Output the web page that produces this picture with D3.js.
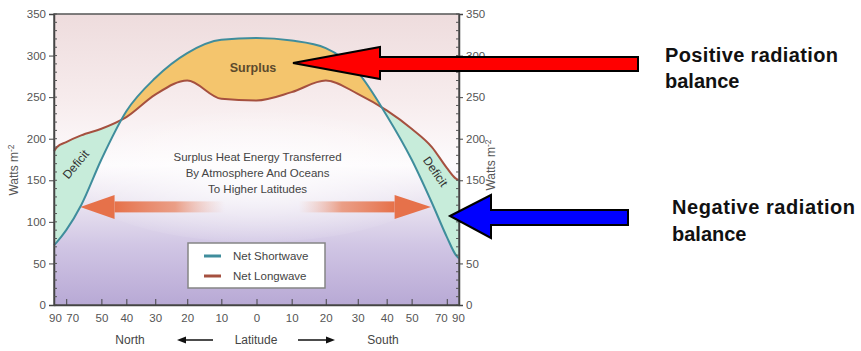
<!DOCTYPE html>
<html><head><meta charset="utf-8">
<script src="https://cdn.jsdelivr.net/npm/d3@7"></script>
<style>body{margin:0;background:#fff}svg{display:block}text{font-family:"Liberation Sans",Arial,Helvetica,sans-serif}</style>
</head><body>
<script>
// ---- data ----
const latitudes    = [90, 80, 70, 60, 50, 40, 30, 20, 10, 0, -10, -20, -30, -40, -50, -60, -70, -80, -90];
const netShortwave = [72, 76, 90, 120, 175, 233, 273, 303, 319, 321, 318, 309, 280, 228, 175, 123, 82, 60, 56];
const netLongwave  = [185, 190, 196, 204, 212, 226, 253, 270, 248, 246, 256, 270, 254, 234, 212, 190, 165, 152, 150];
const latTicks  = [90, 70, 50, 40, 30, 20, 10, 0, -10, -20, -30, -40, -50, -70, -90];
const wattTicks = [0, 50, 100, 150, 200, 250, 300, 350];
const seriesNames = ["Net Shortwave", "Net Longwave"];
const centerNote = ["Surplus Heat Energy Transferred", "By Atmosphere And Oceans", "To Higher Latitudes"];

const W = 861, H = 351;
const svg = d3.select("body").append("svg").attr("width", W).attr("height", H);
const defs = svg.append("defs");

const L = 54, R = 459, T = 14, B = 305;
const xs = d3.scaleLinear().domain([1, -1]).range([L, R]);        // sin(latitude) -> px (area-weighted)
const x = lat => xs(Math.sin(lat * Math.PI / 180));
const y = d3.scaleLinear().domain([0, 350]).range([B, T]);

const SW = "#3f8d9c", LW = "#a5503f";
const rows = latitudes.map((lat, i) => ({lat, sw: netShortwave[i], lw: netLongwave[i]}));

// background gradient
const bg = defs.append("linearGradient").attr("id", "bg").attr("gradientUnits", "userSpaceOnUse")
  .attr("x1", 0).attr("y1", T).attr("x2", 0).attr("y2", B);
[[0, "#eedcdd"], [0.3, "#f7eced"], [0.52, "#fdfbfd"], [0.64, "#ebe5f1"], [0.8, "#d0c5e4"], [1, "#b8a9d5"]]
  .forEach(([o, c]) => bg.append("stop").attr("offset", o).attr("stop-color", c));
svg.append("rect").attr("x", L).attr("y", T).attr("width", R - L).attr("height", B - T).attr("fill", "url(#bg)");
const rg = defs.append("radialGradient").attr("id", "glow").attr("cx", 0.5).attr("cy", 0.55).attr("r", 0.5);
rg.append("stop").attr("offset", 0).attr("stop-color", "#fff").attr("stop-opacity", 0.8);
rg.append("stop").attr("offset", 1).attr("stop-color", "#fff").attr("stop-opacity", 0);
svg.append("ellipse").attr("cx", (L + R) / 2).attr("cy", 172).attr("rx", 190).attr("ry", 70).attr("fill", "url(#glow)");

const curve = d3.curveMonotoneX;
const lineSW = d3.line().x(d => x(d.lat)).y(d => y(d.sw)).curve(curve);
const lineLW = d3.line().x(d => x(d.lat)).y(d => y(d.lw)).curve(curve);
const belowSW = d3.area().x(d => x(d.lat)).y0(y(0)).y1(d => y(d.sw)).curve(curve);
const belowLW = d3.area().x(d => x(d.lat)).y0(y(0)).y1(d => y(d.lw)).curve(curve);
const aboveSW = d3.area().x(d => x(d.lat)).y0(y(350)).y1(d => y(d.sw)).curve(curve);
const aboveLW = d3.area().x(d => x(d.lat)).y0(y(350)).y1(d => y(d.lw)).curve(curve);

defs.append("clipPath").attr("id", "cAboveLW").append("path").attr("d", aboveLW(rows));
defs.append("clipPath").attr("id", "cAboveSW").append("path").attr("d", aboveSW(rows));

// surplus (SW > LW)
svg.append("path").attr("d", belowSW(rows)).attr("fill", "#f4c56d").attr("clip-path", "url(#cAboveLW)");
// deficit (LW > SW)
svg.append("path").attr("d", belowLW(rows)).attr("fill", "#c7ecda").attr("clip-path", "url(#cAboveSW)");

// transport arrows
const arrowY = y(118);
function bigArrow(tipLat, baseLat, fadeLat, id) {
  const tx = x(tipLat), bx = x(baseLat), fx = x(fadeLat);
  const g = defs.append("linearGradient").attr("id", id).attr("gradientUnits", "userSpaceOnUse")
    .attr("x1", bx).attr("y1", 0).attr("x2", fx).attr("y2", 0);
  g.append("stop").attr("offset", 0).attr("stop-color", "#e6714a").attr("stop-opacity", 1);
  g.append("stop").attr("offset", 0.55).attr("stop-color", "#e98b6b").attr("stop-opacity", 0.8);
  g.append("stop").attr("offset", 1).attr("stop-color", "#f0b8a8").attr("stop-opacity", 0);
  svg.append("rect").attr("x", Math.min(bx, fx)).attr("y", arrowY - 5.5).attr("width", Math.abs(fx - bx))
    .attr("height", 11).attr("fill", `url(#${id})`);
  svg.append("path").attr("d", `M${tx},${arrowY} L${bx},${arrowY - 12} L${bx},${arrowY + 12} Z`).attr("fill", "#e6714a");
}
bigArrow(60.5, 44.5, 9, "gL");
bigArrow(-59.5, -43, -12, "gR");

// labels inside plot
svg.append("text").attr("x", x(1)).attr("y", 72).attr("text-anchor", "middle")
  .attr("font-size", 12.5).attr("font-weight", "bold").attr("fill", "#5c4a2c").text("Surplus");
centerNote.forEach((t, i) => svg.append("text").attr("x", x(-0.3)).attr("y", 161 + i * 16)
  .attr("text-anchor", "middle").attr("font-size", 11.5).attr("fill", "#444").text(t));
svg.append("text").attr("transform", `translate(79,167) rotate(-50)`).attr("text-anchor", "middle")
  .attr("font-size", 12).attr("fill", "#333").text("Deficit");
svg.append("text").attr("transform", `translate(432,174) rotate(55)`).attr("text-anchor", "middle")
  .attr("font-size", 12).attr("fill", "#333").text("Deficit");

// lines
svg.append("path").attr("d", lineLW(rows)).attr("fill", "none").attr("stroke", LW).attr("stroke-width", 2);
svg.append("path").attr("d", lineSW(rows)).attr("fill", "none").attr("stroke", SW).attr("stroke-width", 2);

// legend
const lg = svg.append("g");
lg.append("rect").attr("x", 188).attr("y", 243).attr("width", 137).attr("height", 45)
  .attr("fill", "#fff").attr("stroke", "#858585").attr("stroke-width", 1.5);
seriesNames.forEach((n, i) => {
  lg.append("line").attr("x1", 204).attr("x2", 221).attr("y1", 256 + i * 20).attr("y2", 256 + i * 20)
    .attr("stroke", i ? LW : SW).attr("stroke-width", 3);
  lg.append("text").attr("x", 233).attr("y", 260 + i * 20).attr("font-size", 11.5).attr("fill", "#444").text(n);
});

// frame
svg.append("rect").attr("x", L).attr("y", T).attr("width", R - L).attr("height", B - T)
  .attr("fill", "none").attr("stroke", "#555").attr("stroke-width", 1.5);

// axes
const styleAxis = g => {
  g.select(".domain").attr("stroke", "#444").attr("stroke-width", 1.5);
  g.selectAll(".tick line").attr("stroke", "#444");
  g.selectAll("text").attr("font-size", 11.5).attr("fill", "#555").attr("font-family", '"Liberation Sans",Arial,sans-serif');
};
svg.append("g").attr("transform", `translate(${L},0)`)
  .call(d3.axisLeft(y).tickValues(wattTicks).tickSize(5).tickPadding(3)).call(styleAxis);
svg.append("g").attr("transform", `translate(${R},0)`)
  .call(d3.axisRight(y).tickValues(wattTicks).tickSize(4).tickPadding(3)).call(styleAxis);
// minor ticks
const minor = d3.range(0, 351, 10);
svg.append("g").selectAll("line").data(minor).join("line")
  .attr("x1", L).attr("x2", L + 3).attr("y1", d => y(d)).attr("y2", d => y(d)).attr("stroke", "#555");
svg.append("g").selectAll("line").data(minor).join("line")
  .attr("x1", R - 3).attr("x2", R).attr("y1", d => y(d)).attr("y2", d => y(d)).attr("stroke", "#555");

const bx = svg.append("g").attr("transform", `translate(0,${B})`)
  .call(d3.axisBottom(xs).tickValues(latTicks.map(l => Math.sin(l * Math.PI / 180)))
    .tickFormat((d, i) => Math.abs(latTicks[i])).tickSizeInner(-6).tickSizeOuter(0).tickPadding(9))
  .call(styleAxis);
// the drawn axis spreads the 70° labels slightly away from the 90° ends
bx.selectAll(".tick").each(function (d, i) {
  const a = Math.abs(latTicks[i]);
  if (a === 70) d3.select(this).select("text").attr("dx", latTicks[i] > 0 ? 6 : -6);
  if (a === 90) d3.select(this).select("text").attr("dx", latTicks[i] > 0 ? 1 : -1);
});

// axis titles
const wattsTitle = (tx, ty) => {
  const t = svg.append("text").attr("transform", `translate(${tx},${ty}) rotate(-90)`)
    .attr("text-anchor", "middle").attr("font-size", 12).attr("fill", "#555");
  t.append("tspan").text("Watts  m");
  t.append("tspan").attr("dy", -4).attr("font-size", 8.5).text("-2");
};
wattsTitle(18, 170);
wattsTitle(495, 165);

const bottomY = 344;
[["North", 130], ["Latitude", 256], ["South", 383]].forEach(([t, px]) =>
  svg.append("text").attr("x", px).attr("y", bottomY).attr("text-anchor", "middle")
    .attr("font-size", 12).attr("fill", "#444").text(t));
const ay = 340;
svg.append("line").attr("x1", 184).attr("x2", 213).attr("y1", ay).attr("y2", ay).attr("stroke", "#111").attr("stroke-width", 1.5);
svg.append("path").attr("d", `M177,${ay} L186,${ay - 3.5} L186,${ay + 3.5} Z`).attr("fill", "#111");
svg.append("line").attr("x1", 298).attr("x2", 328).attr("y1", ay).attr("y2", ay).attr("stroke", "#111").attr("stroke-width", 1.5);
svg.append("path").attr("d", `M335,${ay} L326,${ay - 3.5} L326,${ay + 3.5} Z`).attr("fill", "#111");

// annotation arrows
svg.append("path").attr("d", "M293,63 L380,47 L380,57 L638,57 L638,71 L380,71 L380,79 Z")
  .attr("fill", "#ff0000").attr("stroke", "#000").attr("stroke-width", 2).attr("stroke-linejoin", "miter");
svg.append("path").attr("d", "M450,216 L491,195 L491,210 L628,210 L628,225 L491,225 L491,238 Z")
  .attr("fill", "#0000ff").attr("stroke", "#000").attr("stroke-width", 2).attr("stroke-linejoin", "miter");

const noteStyle = t => t.attr("font-size", 20).attr("font-weight", "bold").attr("fill", "#111");
svg.append("text").attr("x", 665).attr("y", 62).call(noteStyle)
  .attr("textLength", 173).attr("lengthAdjust", "spacing").text("Positive radiation");
svg.append("text").attr("x", 665).attr("y", 88).call(noteStyle).text("balance");
svg.append("text").attr("x", 672).attr("y", 214).call(noteStyle)
  .attr("textLength", 183).attr("lengthAdjust", "spacing").text("Negative radiation");
svg.append("text").attr("x", 672).attr("y", 241).call(noteStyle).text("balance");
</script>
</body></html>
